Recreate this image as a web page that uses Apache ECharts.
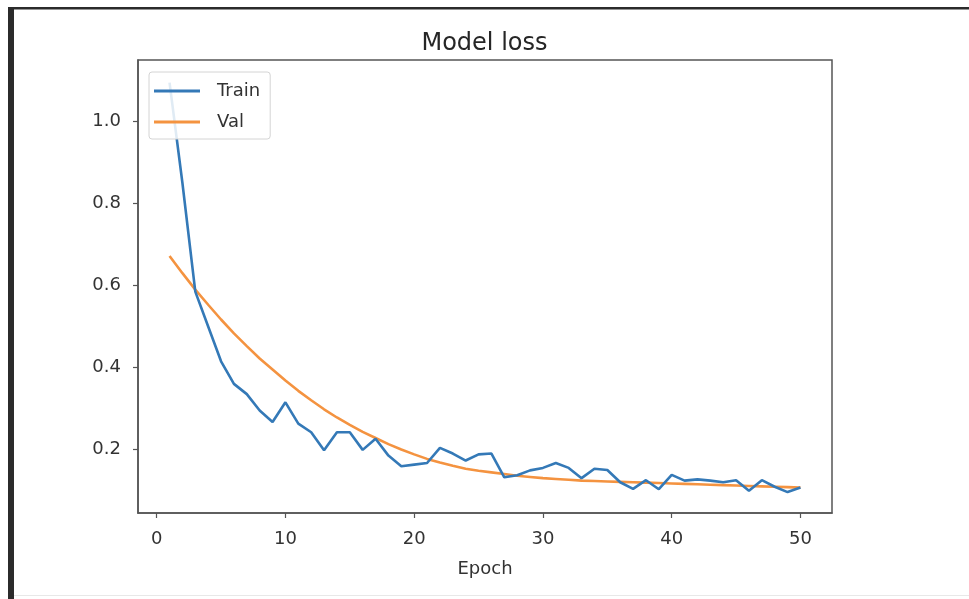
<!DOCTYPE html>
<html>
<head>
<meta charset="utf-8">
<script src="https://cdn.jsdelivr.net/npm/echarts@6/dist/echarts.min.js"></script>
<style>
html,body{margin:0;padding:0;background:#fff;}
#c{width:969px;height:599px;}
</style>
</head>
<body>
<div id="c"></div>
<script>
var epochs = [1,2,3,4,5,6,7,8,9,10,11,12,13,14,15,16,17,18,19,20,21,22,23,24,25,26,27,28,29,30,31,32,33,34,35,36,37,38,39,40,41,42,43,44,45,46,47,48,49,50];
var trainLoss = [1.095,0.850,0.585,0.500,0.415,0.360,0.335,0.295,0.267,0.315,0.263,0.242,0.198,0.242,0.242,0.199,0.226,0.185,0.159,0.163,0.167,0.204,0.190,0.173,0.188,0.190,0.132,0.137,0.149,0.155,0.167,0.155,0.130,0.153,0.150,0.120,0.104,0.125,0.103,0.138,0.124,0.127,0.124,0.120,0.125,0.099,0.125,0.109,0.096,0.107];
var valLoss = [0.672,0.630,0.590,0.553,0.517,0.483,0.452,0.422,0.395,0.368,0.343,0.320,0.298,0.278,0.260,0.243,0.228,0.213,0.200,0.188,0.177,0.168,0.160,0.153,0.148,0.144,0.140,0.136,0.133,0.130,0.128,0.126,0.124,0.123,0.122,0.121,0.120,0.119,0.118,0.117,0.116,0.115,0.114,0.113,0.112,0.111,0.110,0.109,0.108,0.107];
var xTicks = [0,10,20,30,40,50];
var yTicks = [0.2,0.4,0.6,0.8,1.0];
var seriesNames = ['Train','Val'];
var titleText = 'Model loss';
var xName = 'Epoch';

function pairs(xs, ys){ return xs.map(function(x,i){ return [x, ys[i]]; }); }

var font = 'DejaVu Sans';
var chart = echarts.init(document.getElementById('c'), null, {renderer:'canvas'});
chart.setOption({
  backgroundColor:'#ffffff',
  animation:false,
  title:{
    text:titleText, left:'center', top:27,
    textStyle:{fontFamily:font, fontSize:24, fontWeight:'normal', color:'#262626'}
  },
  legend:{
    data:seriesNames, orient:'vertical', left:149, top:72,
    padding:[10,10,8,5], itemGap:13, itemWidth:46, itemHeight:3, icon:'rect',
    backgroundColor:'rgba(255,255,255,0.85)', borderColor:'#d4d4d4', borderWidth:1, borderRadius:3,
    textStyle:{fontFamily:font, fontSize:18, color:'#333', padding:[0,0,0,12]}
  },
  grid:{left:138, top:60, right:137, bottom:86, show:true, borderColor:'#555', borderWidth:1.5, backgroundColor:'transparent'},
  xAxis:{
    type:'value', min:-1.45, max:52.45,
    name:xName, nameLocation:'middle', nameGap:47,
    nameTextStyle:{fontFamily:font, fontSize:18, color:'#333'},
    splitLine:{show:false},
    axisLine:{show:true, onZero:false, lineStyle:{color:'#555', width:1.5}},
    axisTick:{show:true, customValues:xTicks, length:5, lineStyle:{color:'#555', width:1.2}},
    axisLabel:{customValues:xTicks, margin:17, fontFamily:font, fontSize:18, color:'#333'}
  },
  yAxis:{
    type:'value', min:0.045, max:1.15,
    splitLine:{show:false},
    axisLine:{show:true, onZero:false, lineStyle:{color:'#555', width:1.5}},
    axisTick:{show:true, customValues:yTicks, length:5, lineStyle:{color:'#555', width:1.2}},
    axisLabel:{customValues:yTicks, margin:17, fontFamily:font, fontSize:18, color:'#333',
      formatter:function(v){ return v.toFixed(1); }}
  },
  series:[
    {name:seriesNames[0], type:'line', data:pairs(epochs, trainLoss), showSymbol:false, symbol:'none',
     color:'#3479b7', lineStyle:{width:2.6, color:'#3479b7'}, z:3},
    {name:seriesNames[1], type:'line', data:pairs(epochs, valLoss), showSymbol:false, symbol:'none',
     color:'#f49340', lineStyle:{width:2.6, color:'#f49340'}, z:2}
  ],
  graphic:[
    {type:'rect', shape:{x:8, y:7, width:961, height:2.5}, style:{fill:'#2b2b2b'}},
    {type:'rect', shape:{x:8, y:7, width:6, height:592}, style:{fill:'#2b2b2b'}},
    {type:'rect', shape:{x:14, y:595, width:955, height:1}, style:{fill:'#e8e8e8'}}
  ]
});
</script>
</body>
</html>
